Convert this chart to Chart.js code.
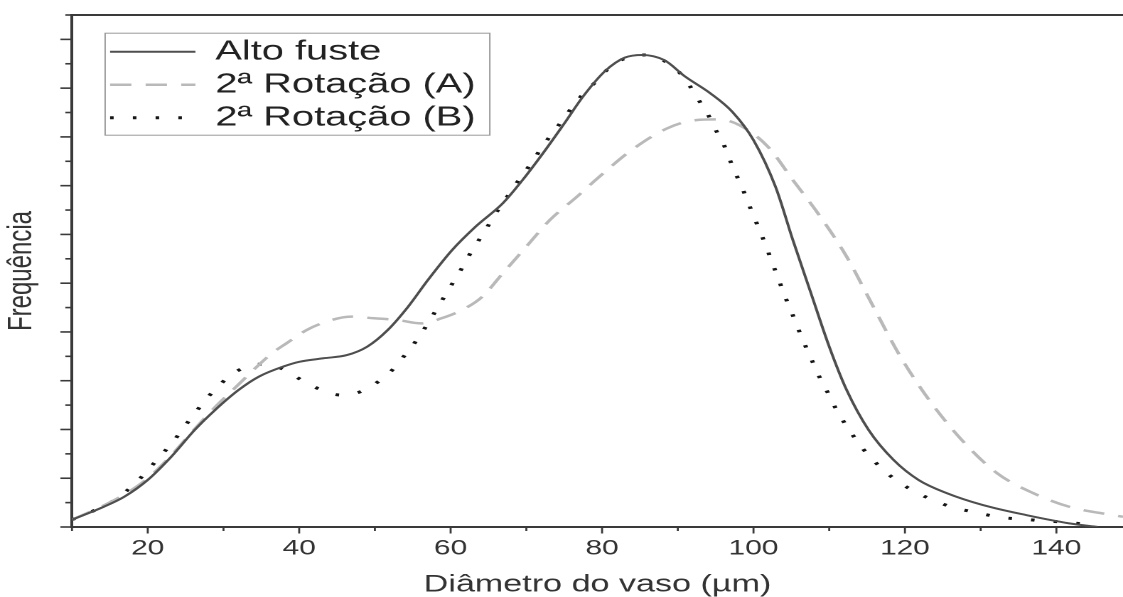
<!DOCTYPE html>
<html>
<head>
<meta charset="utf-8">
<script src="https://cdn.jsdelivr.net/npm/chart.js@4.4.1/dist/chart.umd.min.js"></script>
<style>
  html, body { margin: 0; padding: 0; background: #fff; overflow: hidden; }
  /* the reference is stretched sideways, so the whole chart is too */
  #wrap { width: 790px; height: 597px; transform: scaleX(1.42152); transform-origin: 0 0; }
  #chart { width: 790px; height: 597px; display: block; }
</style>
</head>
<body>
<div id="wrap"><canvas id="chart" width="790" height="597"></canvas></div>
<script>
// Alto fuste (solid)
var altoX = [10, 14.2, 16.9, 20, 23.1, 26.2, 28.9, 32, 34.7, 37.9, 40.1, 43.2, 46.3, 49, 51.7, 54.4, 57, 60.2, 63.3, 66.9, 69.5, 72.2, 74.9, 77.6, 80.4, 83, 85.3, 88.2, 91, 94.3, 97.2, 100, 102.9, 105.2, 107.6, 110, 112.3, 115.2, 118.5, 121.8, 125.6, 130.3, 136, 141.7, 145.5];
var altoY = [0.3, 0.83, 1.24, 1.93, 2.88, 3.98, 4.8, 5.62, 6.17, 6.58, 6.78, 6.92, 7.05, 7.4, 8.08, 9.04, 10.13, 11.36, 12.32, 13.28, 14.23, 15.33, 16.5, 17.7, 18.7, 19.25, 19.36, 19.15, 18.47, 17.79, 17.03, 15.87, 13.96, 11.77, 9.58, 7.4, 5.62, 3.98, 2.75, 1.93, 1.38, 0.9, 0.49, 0.15, 0.0];

// 2ª Rotação (A) (dashed)
var rotAX = [10, 14, 17, 20, 23, 26, 29, 32, 34.5, 36.5, 38.3, 41, 43.6, 46.8, 49.9, 53, 56.1, 58.8, 61.5, 64.2, 66.9, 70, 73.1, 76.7, 79.4, 83.9, 88.6, 92.4, 95.3, 98.1, 101.9, 105.2, 108.5, 112.3, 115.6, 119.4, 123.2, 127.5, 132.2, 137, 141.7, 147.4, 148.8];
var rotAY = [0.3, 0.85, 1.35, 2.0, 2.9, 3.95, 4.95, 5.85, 6.6, 7.15, 7.53, 8.08, 8.42, 8.63, 8.56, 8.49, 8.35, 8.56, 8.9, 9.45, 10.41, 11.5, 12.59, 13.55, 14.3, 15.46, 16.35, 16.69, 16.72, 16.49, 15.6, 14.23, 12.87, 11.09, 9.17, 6.99, 5.21, 3.57, 2.2, 1.38, 0.83, 0.49, 0.42];

// 2ª Rotação (B) (dotted)
var rotBX = [10, 12.6, 14.9, 17.1, 18.9, 20.4, 22, 23.6, 24.9, 26.3, 27.6, 29.1, 30.7, 32.9, 35.5, 38.1, 40.3, 42.7, 45.5, 48.1, 50.3, 52.3, 53.8, 55.2, 56.5, 57.7, 58.9, 60.2, 61.4, 62.4, 63.6, 64.8, 65.9, 67.1, 68.3, 69.6, 70.9, 72.1, 73.5, 74.9, 76.2, 77.6, 79.2, 80.8, 82.7, 85.6, 88.2, 90.1, 91.5, 92.7, 93.9, 94.9, 96, 96.8, 97.6, 98.5, 99.3, 100.1, 100.9, 101.7, 102.4, 103.2, 103.9, 104.7, 105.5, 106.3, 107.1, 108, 108.9, 109.9, 110.9, 112, 113.2, 114.4, 115.7, 117.4, 119.3, 121.5, 123.9, 126.5, 129.5, 132.5, 135.6, 138.4, 141.5, 144.6];
var rotBY = [0.3, 0.63, 0.97, 1.45, 1.96, 2.47, 3.02, 3.6, 4.14, 4.69, 5.21, 5.69, 6.17, 6.55, 6.69, 6.44, 6.03, 5.65, 5.41, 5.55, 5.93, 6.44, 6.99, 7.53, 8.11, 8.7, 9.31, 9.97, 10.57, 11.12, 11.7, 12.28, 12.84, 13.37, 13.92, 14.48, 15.03, 15.6, 16.17, 16.73, 17.28, 17.79, 18.27, 18.79, 19.18, 19.36, 19.12, 18.68, 18.13, 17.54, 16.97, 16.35, 15.74, 15.12, 14.53, 13.92, 13.3, 12.7, 12.09, 11.5, 10.88, 10.27, 9.65, 9.06, 8.45, 7.83, 7.26, 6.64, 6.03, 5.46, 4.84, 4.28, 3.73, 3.23, 2.78, 2.27, 1.82, 1.42, 1.08, 0.79, 0.59, 0.4, 0.32, 0.25, 0.19, 0.08];

var seriesLabels = ['Alto fuste', '2ª Rotação (A)', '2ª Rotação (B)'];
var xTickValues = [10, 20, 30, 40, 50, 60, 70, 80, 90, 100, 110, 120, 130, 140];
var xTickLabels = ['', '20', '', '40', '', '60', '', '80', '', '100', '', '120', '', '140'];

var axisColor = '#3a3a3a';
var fontFamily = '"Liberation Sans", Arial, sans-serif';

var toPoints = function (xs, ys) {
    return xs.map(function (x, i) { return { x: x, y: ys[i] }; });
};

// small outward tick marks, long on the labelled ones
var axisTicks = {
    id: 'axisTicks',
    afterDraw: function (chart) {
        var ctx = chart.ctx;
        var area = chart.chartArea;
        var xs = chart.scales.x;
        var ys = chart.scales.y;
        ctx.save();
        ctx.strokeStyle = axisColor;

        ctx.lineWidth = 1.6;
        ys.ticks.forEach(function (t) {
            var py = ys.getPixelForValue(t.value);
            var len = t.value % 2 === 0 ? 8.2 : 4.7;
            ctx.beginPath();
            ctx.moveTo(area.left - len, py);
            ctx.lineTo(area.left, py);
            ctx.stroke();
        });

        ctx.lineWidth = 1.4;
        xs.ticks.forEach(function (t) {
            var px = xs.getPixelForValue(t.value);
            var len = t.value % 20 === 0 ? 6.5 : 4;
            ctx.beginPath();
            ctx.moveTo(px, area.bottom);
            ctx.lineTo(px, area.bottom + len);
            ctx.stroke();
        });

        // frame round the legend
        var lg = chart.legend;
        ctx.strokeStyle = '#9a9a9a';
        ctx.lineWidth = 1;
        ctx.strokeRect(lg.left + 1.5, lg.top + 0.5, lg.width - 1.5, 102);
        ctx.restore();
    }
};

// move the legend off the axes corner
var legendSpot = {
    id: 'legendSpot',
    afterLayout: function (chart) {
        var lg = chart.legend;
        var w = lg.width;
        lg.left = chart.chartArea.left + 21.8;
        lg.right = lg.left + w;
        lg.top = chart.chartArea.top + 17.7;
    }
};

var ctx = document.getElementById('chart');
var chart = new Chart(ctx, {
    type: 'line',
    data: {
        datasets: [
            {
                label: seriesLabels[0],
                data: toPoints(altoX, altoY),
                borderColor: '#4e4e4e',
                borderWidth: 2,
                xAxisID: 'x',
                yAxisID: 'y'
            },
            {
                label: seriesLabels[1],
                data: toPoints(rotAX, rotAY),
                borderColor: '#b9b9b9',
                borderWidth: 2.5,
                borderDash: [15, 10],
                xAxisID: 'x',
                yAxisID: 'y'
            },
            {
                label: seriesLabels[2],
                data: toPoints(rotBX, rotBY),
                borderColor: '#151515',
                borderWidth: 3,
                borderDash: [2.5, 13.5],
                xAxisID: 'x',
                yAxisID: 'y'
            }
        ]
    },
    options: {
        responsive: false,
        devicePixelRatio: 2,
        animation: false,
        layout: { padding: { top: 15, left: 0, right: 0, bottom: 0 } },
        elements: {
            point: { radius: 0, hoverRadius: 0 },
            line: { cubicInterpolationMode: 'monotone', fill: false }
        },
        plugins: {
            tooltip: { enabled: false },
            legend: {
                position: 'chartArea',
                align: 'start',
                labels: {
                    usePointStyle: true,
                    pointStyle: 'line',
                    pointStyleWidth: 60,
                    padding: 5,
                    color: '#222',
                    font: { size: 28, family: fontFamily },
                    generateLabels: function (chart) {
                        return chart.data.datasets.map(function (ds, i) {
                            return {
                                text: ds.label,
                                strokeStyle: ds.borderColor,
                                fillStyle: 'rgba(0,0,0,0)',
                                lineWidth: ds.borderWidth,
                                lineDash: ds.borderDash || [],
                                lineCap: 'butt',
                                pointStyle: 'line',
                                fontColor: '#222',
                                hidden: false,
                                datasetIndex: i
                            };
                        });
                    }
                }
            }
        },
        scales: {
            x: {
                type: 'linear',
                position: 'bottom',
                min: 10,
                max: 148.8,
                afterBuildTicks: function (scale) {
                    scale.ticks = xTickValues.map(function (v) { return { value: v }; });
                },
                afterFit: function (scale) { scale.height = 70; },
                grid: { display: false, drawTicks: false },
                border: { color: axisColor, width: 2 },
                ticks: {
                    autoSkip: false,
                    maxRotation: 0,
                    padding: 9,
                    color: '#333',
                    font: { size: 21, family: fontFamily },
                    callback: function (value) {
                        var i = xTickValues.indexOf(value);
                        return i < 0 ? '' : xTickLabels[i];
                    }
                },
                title: {
                    display: true,
                    text: 'Diâmetro do vaso (µm)',
                    color: '#333',
                    padding: { top: 0, bottom: 0 },
                    font: { size: 24, family: fontFamily, lineHeight: 1 }
                }
            },
            xTop: {
                type: 'linear',
                position: 'top',
                min: 10,
                max: 148.8,
                afterFit: function (scale) { scale.height = 0; },
                grid: { display: false, drawTicks: false },
                border: { color: axisColor, width: 2 },
                ticks: { display: false }
            },
            y: {
                type: 'linear',
                min: 0,
                max: 21,
                afterFit: function (scale) { scale.width = 50.65; },
                grid: { display: false, drawTicks: false },
                border: { color: axisColor, width: 2 },
                ticks: { stepSize: 1, display: false },
                title: {
                    display: true,
                    text: 'Frequência',
                    color: '#333',
                    padding: { top: 1, bottom: 0 },
                    font: { size: 24, family: fontFamily }
                }
            }
        }
    },
    plugins: [legendSpot, axisTicks]
});
</script>
</body>
</html>
